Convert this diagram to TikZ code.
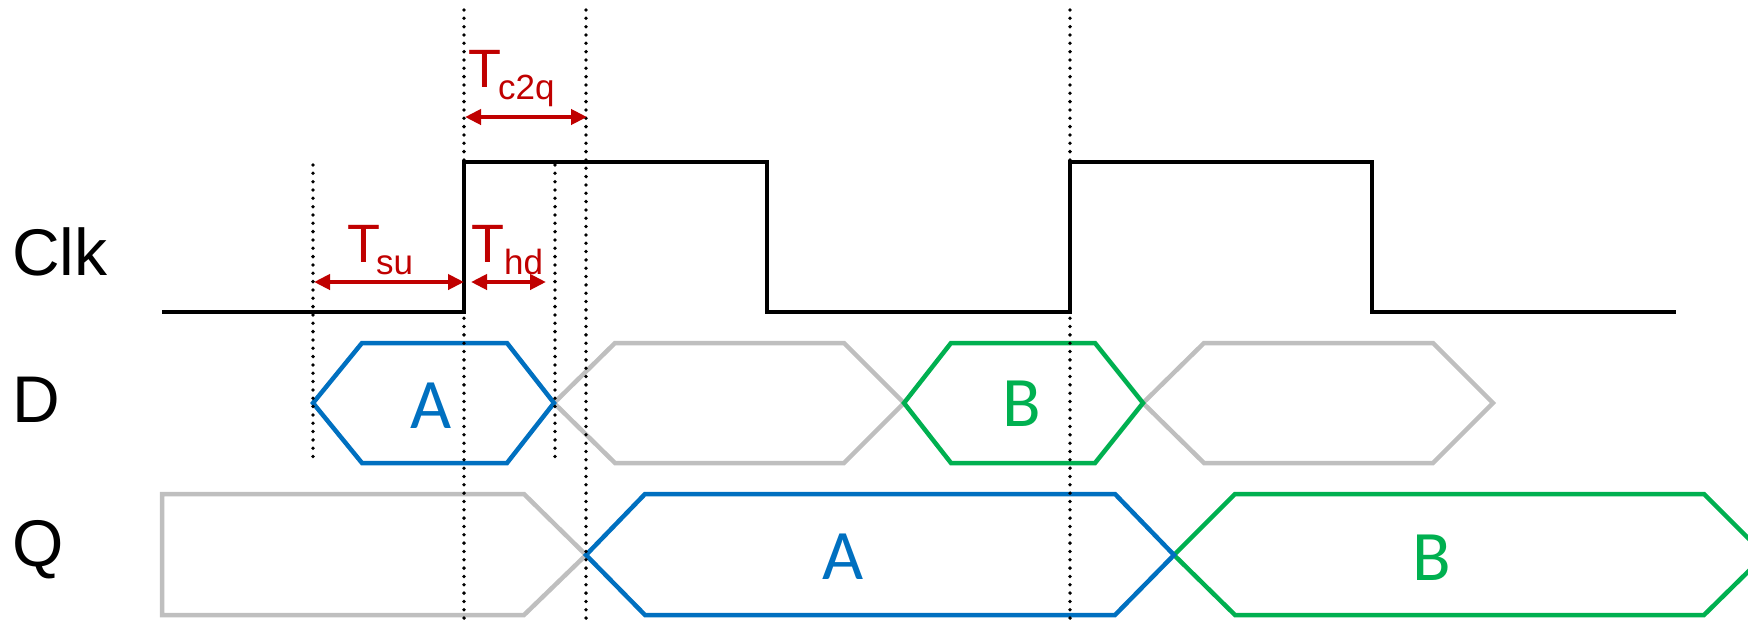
\documentclass[tikz,border=0pt]{standalone}
\usepackage{fontspec}
\setmainfont{Liberation Sans}
\newfontfamily\calfont{Carlito}
\usetikzlibrary{arrows.meta}
\definecolor{clkblue}{RGB}{0,112,192}
\definecolor{clkgreen}{RGB}{0,176,80}
\definecolor{clkgrey}{RGB}{191,191,191}
\definecolor{clkred}{RGB}{192,0,0}
\newcommand\subtxt[1]{\raisebox{-12pt}{\fontsize{35}{35}\selectfont #1}}
\begin{document}
\begin{tikzpicture}[x=1pt,y=-1pt,
  sig/.style={line width=4.5pt, line join=miter},
  clkline/.style={sig, draw=black},
  greyval/.style={sig, draw=clkgrey},
  blueval/.style={sig, draw=clkblue},
  greenval/.style={sig, draw=clkgreen},
  dotline/.style={draw=black, line width=3.8pt, line cap=round, dash pattern=on 0pt off 8.33pt},
  dimarrow/.style={draw=clkred, line width=4pt, {Triangle[length=16pt,width=15pt]}-{Triangle[length=16pt,width=15pt]}},
  siglabel/.style={anchor=base west, inner sep=0pt, font=\fontsize{66}{66}\selectfont},
  tlabel/.style={anchor=base west, inner sep=0pt, text=clkred, font=\fontsize{54}{54}\selectfont},
  vallabel/.style={anchor=base, inner sep=0pt, font=\calfont\fontsize{71}{71}\selectfont}]
\useasboundingbox (0,0) rectangle (1748,619);
\clip (0,0) rectangle (1748,619);

% D row
\draw[greyval] (554,403) -- (615,343) -- (844,343) -- (904,403) -- (844,463) -- (615,463) -- cycle;
\draw[greyval] (1143,403) -- (1204,343) -- (1433,343) -- (1493,403) -- (1433,463) -- (1204,463) -- cycle;
\draw[blueval] (313,403) -- (362,343) -- (507,343) -- (554,403) -- (507,463) -- (362,463) -- cycle;
\draw[greenval] (904,403) -- (951,343) -- (1095,343) -- (1143,403) -- (1095,463) -- (951,463) -- cycle;

% Q row
\draw[greyval] (162,494) -- (524,494) -- (586,555) -- (524,615) -- (162,615) -- cycle;
\draw[greenval] (1174,555) -- (1235,494) -- (1704,494) -- (1765,555) -- (1704,615) -- (1235,615) -- cycle;
\draw[blueval] (586,555) -- (645,494) -- (1115,494) -- (1174,555) -- (1115,615) -- (645,615) -- cycle;

% Clock
\draw[clkline] (162,312) -- (464,312) -- (464,162) -- (767,162) -- (767,312) -- (1070,312) -- (1070,162) -- (1372,162) -- (1372,312) -- (1676,312);

% dotted guide lines
\coordinate (g1t) at (313,165); \coordinate (g1b) at (313,463);
\coordinate (g2t) at (464,10);  \coordinate (g2b) at (464,619);
\coordinate (g3t) at (555,165); \coordinate (g3b) at (555,463);
\coordinate (g4t) at (586,10);  \coordinate (g4b) at (586,619);
\coordinate (g5t) at (1070,10); \coordinate (g5b) at (1070,619);
\draw[dotline] (g1t) -- (g1b);
\draw[dotline] (g2t) -- (g2b);
\draw[dotline] (g3t) -- (g3b);
\draw[dotline] (g4t) -- (g4b);
\draw[dotline] (g5t) -- (g5b);

% timing arrows
\coordinate (c2qL) at (465,117); \coordinate (c2qR) at (587,117);
\coordinate (suL) at (314,282);  \coordinate (suR) at (464,282);
\coordinate (hdL) at (471,282);  \coordinate (hdR) at (546,282);
\draw[dimarrow] (c2qL) -- (c2qR);
\draw[dimarrow] (suL) -- (suR);
\draw[dimarrow] (hdL) -- (hdR);

% labels
\node[siglabel] (clk) at (12,275) {Clk};
\node[siglabel] (d) at (12,422) {D};
\node[siglabel] (q) at (12,566) {Q};

\node[tlabel] (tc2q) at (468,87) {T\kern-3pt\subtxt{c2q}};
\node[tlabel] (tsu) at (347,262) {T\kern-4pt\subtxt{su}};
\node[tlabel] (thd) at (471,262) {T\kern0pt\subtxt{hd}};

\node[vallabel, text=clkblue] (da) at (431,428) {A};
\node[vallabel, text=clkgreen] (db) at (1022,426) {B};
\node[vallabel, text=clkblue] (qa) at (843,579) {A};
\node[vallabel, text=clkgreen] (qb) at (1432,580) {B};
\end{tikzpicture}
\end{document}
